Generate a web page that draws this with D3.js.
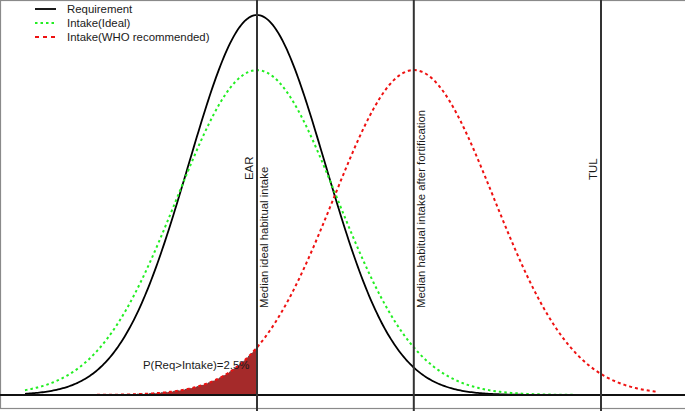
<!DOCTYPE html>
<html>
<head>
<meta charset="utf-8">
<script src="https://cdn.jsdelivr.net/npm/d3@7"></script>
<style>
body{margin:0;background:#fff;}
text{font-family:"Liberation Sans",Arial,sans-serif;fill:#1a1a1a;}
</style>
</head>
<body>
<svg></svg>
<script>
// distributions (standardised units)
var curveNames = ["Requirement", "Intake(Ideal)", "Intake(WHO recommended)"];
var curveMeans = [0, 0, 1.96];
var curveSds = [0.855, 1, 1];
var curveColors = ["#000000", "#22ee22", "#ee1111"];
var curveDash = [null, "2.5,3", "3,3"];
var xFrom = -2.9, xTo = 4.99;

// reference lines
var lineVals = [0, 1.96, 4.3];
var lineLeftLabels = ["EAR", "", "TUL"];
var lineRightLabels = ["Median ideal habitual intake", "Median habitual intake after fortification", ""];
var probLabel = "P(Req>Intake)=2.5%";

var screen = {width:685, height:411};
var fs = 11.4;
var svg = d3.select('svg')
  .attr('width',screen.width)
  .attr('height',screen.height);

var xScale = d3.scaleLinear().domain([0,1]).range([257,337]);
var peak = 1/(curveSds[0]*Math.sqrt(2*Math.PI));
var yScale = d3.scaleLinear().domain([0,peak]).range([395,15]);

var dens = function(x,m,s){
  return Math.exp(-0.5*Math.pow((x-m)/s,2))/(s*Math.sqrt(2*Math.PI));
};
var xs = d3.range(0,401).map(function(i){return xFrom+(xTo-xFrom)*i/400;});

// panel border
svg.append('rect')
  .attr('x',0.5).attr('y',0.5)
  .attr('width',720).attr('height',408)
  .attr('fill','none').attr('stroke','#8a8a8a').attr('stroke-width',1.2);

// shaded area under WHO curve, left of EAR
var shade = xs.filter(function(x){return x<=lineVals[0];});
shade.push(lineVals[0]);
var area = d3.area()
  .x(function(d){return xScale(d);})
  .y0(yScale(0))
  .y1(function(d){return yScale(dens(d,curveMeans[2],curveSds[2]));});
svg.append('path')
  .datum(shade)
  .attr('d',area)
  .attr('fill','#a52a2a')
  .attr('stroke','#333')
  .attr('stroke-width',0.8)
  .attr('stroke-dasharray','2,2');

// curves
var line = d3.line()
  .x(function(d){return xScale(d.x);})
  .y(function(d){return yScale(d.y);});
curveNames.forEach(function(n,i){
  var pts = xs.map(function(x){return {x:x,y:dens(x,curveMeans[i],curveSds[i])};});
  svg.append('path')
    .datum(pts)
    .attr('d',line)
    .attr('fill','none')
    .attr('stroke',curveColors[i])
    .attr('stroke-width',i==0?1.8:2)
    .attr('stroke-dasharray',curveDash[i]);
});

// baseline
svg.append('line')
  .attr('x1',0).attr('x2',screen.width)
  .attr('y1',yScale(0)).attr('y2',yScale(0))
  .attr('stroke','#111').attr('stroke-width',1.8);

// vertical lines + labels
lineVals.forEach(function(v,i){
  var x = xScale(v);
  svg.append('line')
    .attr('x1',x).attr('x2',x)
    .attr('y1',0).attr('y2',screen.height)
    .attr('stroke','#333').attr('stroke-width',2);
  if(lineLeftLabels[i]!=""){
    svg.append('text')
      .attr('transform','translate('+(x-4)+',180) rotate(-90)')
      .attr('font-size',fs)
      .text(lineLeftLabels[i]);
  }
  if(lineRightLabels[i]!=""){
    svg.append('text')
      .attr('transform','translate('+(x+11)+',308) rotate(-90)')
      .attr('font-size',fs)
      .text(lineRightLabels[i]);
  }
});

svg.append('text')
  .attr('x',143).attr('y',369)
  .attr('font-size',fs)
  .text(probLabel);

// legend
var legend = svg.append('g').attr('transform','translate(35,9)');
curveNames.forEach(function(n,i){
  legend.append('line')
    .attr('x1',0).attr('x2',21)
    .attr('y1',i*14).attr('y2',i*14)
    .attr('stroke',curveColors[i])
    .attr('stroke-width',i==0?1.8:2)
    .attr('stroke-dasharray',i==0?null:(i==1?"2.5,3":"4,4"));
  legend.append('text')
    .attr('x',32).attr('y',i*14+4)
    .attr('font-size',fs)
    .text(n);
});
</script>
</body>
</html>
